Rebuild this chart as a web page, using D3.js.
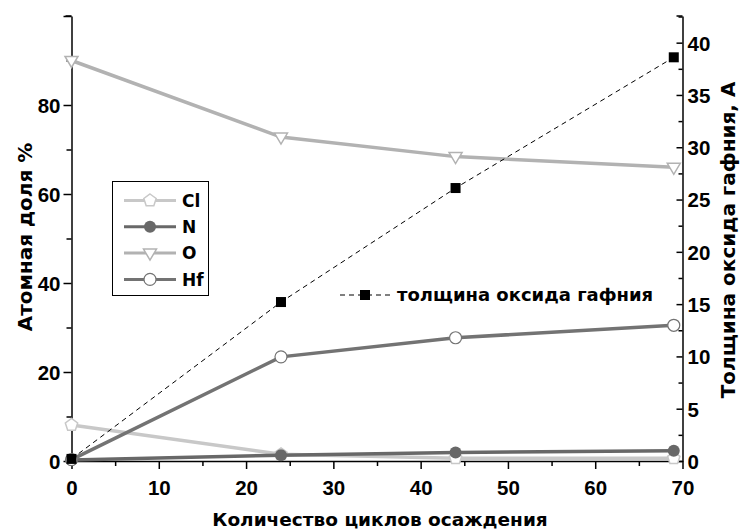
<!DOCTYPE html>
<html>
<head>
<meta charset="utf-8">
<script src="https://cdn.jsdelivr.net/npm/d3@7"></script>
<style>
  html, body { margin: 0; padding: 0; background: #fff; }
  svg { display: block; font-family: "Liberation Sans", Arial, sans-serif; font-weight: bold; }
  .wide { font-family: "DejaVu Sans", sans-serif; font-weight: bold; }
</style>
</head>
<body>
<div id="chart"></div>
<script>
// deposition cycles
const cycles = [0, 24, 44, 69]

// atomic fraction, %
const cl = [8.1, 1.5, 0.6, 0.6]
const n = [0.2, 1.3, 1.9, 2.3]
const o = [90, 72.8, 68.4, 66.0]
const hf = [0.3, 23.4, 27.7, 30.5]

// hafnium oxide thickness, A
const thickness = [0.2, 15.2, 26.1, 38.6]

const xTicks = [0, 10, 20, 30, 40, 50, 60, 70]
const leftTicks = [0, 20, 40, 60, 80]
const rightTicks = [0, 5, 10, 15, 20, 25, 30, 35, 40]

const width = 740, height = 529
const x0 = 71.5, x1 = 682.5, yTop = 16, yBottom = 461

const svg = d3.select("#chart").append("svg")
  .attr("width", width)
  .attr("height", height)

const x = d3.scaleLinear().domain([0, 70]).range([x0, x1])
const yL = d3.scaleLinear().domain([0, 100]).range([yBottom, yTop])
const yR = d3.scaleLinear().domain([0, 42.55]).range([yBottom, yTop])

// Axes
const bottom = svg.append("g").attr("transform", `translate(0,${yBottom})`)
bottom.call(d3.axisBottom(x).tickValues(d3.range(0, 71, 5)).tickSize(0).tickFormat(""))
bottom.selectAll(".tick").append("line")
  .attr("y2", d => d % 10 === 0 ? 8 : 5)
  .attr("stroke", "#000").attr("stroke-width", 1.5)
bottom.selectAll(".tick").filter(d => xTicks.includes(d)).append("text")
  .attr("y", 34).attr("text-anchor", "middle")
  .attr("font-size", 20.5).attr("fill", "#000")
  .text(d => d)

const left = svg.append("g").attr("transform", `translate(${x0},0)`)
left.call(d3.axisLeft(yL).tickValues(d3.range(0, 101, 10)).tickSize(0).tickFormat(""))
left.selectAll(".tick").append("line")
  .attr("x2", d => d % 20 === 0 ? -8 : -5)
  .attr("stroke", "#000").attr("stroke-width", 1.5)
left.selectAll(".tick").filter(d => leftTicks.includes(d)).append("text")
  .attr("x", -11).attr("dy", "0.36em").attr("text-anchor", "end")
  .attr("font-size", 20.5).attr("fill", "#000")
  .text(d => d)

const right = svg.append("g").attr("transform", `translate(${x1},0)`)
right.call(d3.axisRight(yR).tickValues(d3.range(0, 42.6, 2.5)).tickSize(0).tickFormat(""))
right.selectAll(".tick").append("line")
  .attr("x2", d => d % 5 === 0 ? -6 : -4)
  .attr("stroke", "#000").attr("stroke-width", 1.5)
right.selectAll(".tick").filter(d => rightTicks.includes(d)).append("text")
  .attr("x", 5).attr("dy", "0.36em").attr("text-anchor", "start")
  .attr("font-size", 20.5).attr("fill", "#000")
  .text(d => d)

svg.selectAll(".domain").attr("stroke", "#000").attr("stroke-width", 1.5)

// top end ticks
left.append("line").attr("x1", -6).attr("x2", 0).attr("y1", yTop).attr("y2", yTop).attr("stroke", "#000").attr("stroke-width", 1.5)
right.append("line").attr("x1", -6).attr("x2", 0).attr("y1", yTop).attr("y2", yTop).attr("stroke", "#000").attr("stroke-width", 1.5)

// Axis titles
svg.append("text").attr("class", "wide")
  .attr("x", 380).attr("y", 526)
  .attr("text-anchor", "middle").attr("font-size", 18.5)
  .text("Количество циклов осаждения")

svg.append("text").attr("class", "wide")
  .attr("transform", `translate(32,237) rotate(-90)`)
  .attr("text-anchor", "middle").attr("font-size", 20)
  .text("Атомная доля %")

svg.append("text").attr("class", "wide")
  .attr("transform", `translate(735,240) rotate(-90)`)
  .attr("text-anchor", "middle").attr("font-size", 20)
  .text("Толщина оксида гафния, А")

// Series
const series = [
  { name: "Cl", values: cl, color: "#c8c8c8", marker: "pentagon" },
  { name: "N", values: n, color: "#686868", marker: "dot" },
  { name: "O", values: o, color: "#b2b2b2", marker: "triangle" },
  { name: "Hf", values: hf, color: "#737373", marker: "circle" }
]

function drawMarker(g, s, cx, cy) {
  if (s.marker === "dot") {
    g.append("circle").attr("cx", cx).attr("cy", cy).attr("r", 6).attr("fill", s.color)
  } else if (s.marker === "circle") {
    g.append("circle").attr("cx", cx).attr("cy", cy).attr("r", 6)
      .attr("fill", "#fff").attr("stroke", s.color).attr("stroke-width", 1.2)
  } else if (s.marker === "triangle") {
    g.append("path")
      .attr("d", `M${cx - 6.5},${cy - 4} L${cx + 6.5},${cy - 4} L${cx},${cy + 7} Z`)
      .attr("fill", "#fff").attr("stroke", s.color).attr("stroke-width", 1.5)
  } else {
    const r = 6.5
    const pts = d3.range(5).map(i => {
      const a = -Math.PI / 2 + i * 2 * Math.PI / 5
      return [cx + r * Math.cos(a), cy + r * Math.sin(a)]
    })
    g.append("path").attr("d", "M" + pts.join("L") + "Z")
      .attr("fill", "#fff").attr("stroke", s.color).attr("stroke-width", 1.5)
  }
}

const line = d3.line().x(d => x(d[0])).y(d => yL(d[1]))

series.forEach(s => {
  const pts = cycles.map((c, i) => [c, s.values[i]])
  const g = svg.append("g")
  g.append("path").datum(pts)
    .attr("d", line).attr("fill", "none")
    .attr("stroke", s.color).attr("stroke-width", 3.5)
  pts.forEach(p => drawMarker(g, s, x(p[0]), yL(p[1])))
})

// Thickness (right axis)
const tPts = cycles.map((c, i) => [c, thickness[i]])
svg.append("path").datum(tPts)
  .attr("d", d3.line().x(d => x(d[0])).y(d => yR(d[1])))
  .attr("fill", "none").attr("stroke", "#000").attr("stroke-width", 1)
  .attr("stroke-dasharray", "5,4")
svg.selectAll(".sq").data(tPts).join("rect")
  .attr("x", d => x(d[0]) - 5).attr("y", d => yR(d[1]) - 5)
  .attr("width", 10).attr("height", 10).attr("fill", "#000")

// Legend
const lg = svg.append("g")
lg.append("rect").attr("x", 112.5).attr("y", 181.5).attr("width", 96).attr("height", 114)
  .attr("fill", "#fff").attr("stroke", "#000").attr("stroke-width", 1)
series.forEach((s, i) => {
  const cy = 200.5 + i * 26.3
  lg.append("line").attr("x1", 124).attr("x2", 176).attr("y1", cy).attr("y2", cy)
    .attr("stroke", s.color).attr("stroke-width", 3)
  drawMarker(lg, s, 150, cy)
  lg.append("text").attr("class", "wide").attr("x", 182).attr("y", cy).attr("dy", "0.36em")
    .attr("font-size", 17).text(s.name)
})

// Thickness label
const ty = 295
svg.append("line").attr("x1", 340).attr("x2", 390).attr("y1", ty).attr("y2", ty)
  .attr("stroke", "#000").attr("stroke-width", 1).attr("stroke-dasharray", "5,4")
svg.append("rect").attr("x", 360).attr("y", ty - 5).attr("width", 10).attr("height", 10).attr("fill", "#000")
svg.append("text").attr("class", "wide").attr("x", 397).attr("y", ty).attr("dy", "0.36em")
  .attr("font-size", 18).text("толщина оксида гафния")
</script>
</body>
</html>
